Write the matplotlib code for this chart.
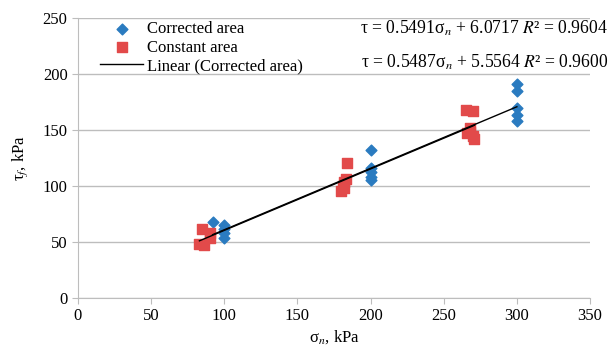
import matplotlib.pyplot as plt
import numpy as np

plt.rcParams['font.family'] = ['Liberation Serif', 'DejaVu Serif']
plt.rcParams['mathtext.fontset'] = 'stix'

# Corrected area (blue diamonds)
corr_x = [92, 100, 100, 100, 100, 200, 200, 200, 200, 200, 300, 300, 300, 300, 300]
corr_y = [68, 65, 62, 58, 54, 132, 116, 113, 108, 105, 191, 185, 170, 163, 158]

# Constant area (red squares)
const_x = [85, 90, 90, 83, 86, 180, 181, 182, 183, 184, 182, 265, 270, 268, 268, 270, 271, 266]
const_y = [62, 58, 54, 48, 47, 96, 100, 104, 106, 121, 98, 168, 167, 152, 148, 145, 142, 147]

# trendline coefficients shown in chart
corr_fit = (0.5491, 6.0717, 0.9604)
const_fit = (0.5487, 5.5564, 0.9600)

fig = plt.figure(figsize=(6.14, 3.54), dpi=100)
ax = fig.add_axes([0.127, 0.158, 0.834, 0.791])

ax.scatter(corr_x, corr_y, marker='D', s=30, color='#2A7BC0', zorder=3, label='Corrected area')
ax.scatter(const_x, const_y, marker='s', s=45, color='#E24A4A', zorder=3, label='Constant area')

xs = np.array([min(corr_x), max(corr_x)])
ax.plot(xs, corr_fit[0] * xs + corr_fit[1], color='black', lw=1, zorder=4,
        label='Linear (Corrected area)')
xs2 = np.array([min(const_x), max(const_x)])
ax.plot(xs2, const_fit[0] * xs2 + const_fit[1], color='black', lw=1, zorder=4)

ax.set_xlim(0, 350)
ax.set_ylim(0, 250)
ax.set_xticks(range(0, 351, 50))
ax.set_yticks(range(0, 251, 50))
ax.grid(axis='y', color='#BDBDBD', lw=1)
ax.set_axisbelow(True)
for s in ['top', 'right']:
    ax.spines[s].set_visible(False)
ax.spines['left'].set_color('#BDBDBD')
ax.spines['bottom'].set_color('#BDBDBD')
ax.tick_params(axis='x', colors='#BDBDBD', labelcolor='black', labelsize=12, length=4)
ax.tick_params(axis='y', colors='#BDBDBD', labelcolor='black', labelsize=12, length=4)

ax.set_xlabel(r'σ$_n$, kPa', fontsize=12, labelpad=3)
ax.set_ylabel(r'τ$_f$, kPa', fontsize=12, labelpad=9)

ax.legend(loc='upper left', bbox_to_anchor=(0.02, 1.03), frameon=False, fontsize=12,
          handlelength=2.6, handletextpad=0.2, labelspacing=0.15, borderpad=0.2)

ax.text(1.035, 0.964, r'τ = %.4fσ$_n$ + %.4f $R$² = %.4f' % corr_fit, transform=ax.transAxes,
        ha='right', va='center', fontsize=12.7)
ax.text(1.035, 0.843, r'τ = %.4fσ$_n$ + %.4f $R$² = %.4f' % const_fit, transform=ax.transAxes,
        ha='right', va='center', fontsize=12.7)

fig.savefig('out.png', dpi=100)
